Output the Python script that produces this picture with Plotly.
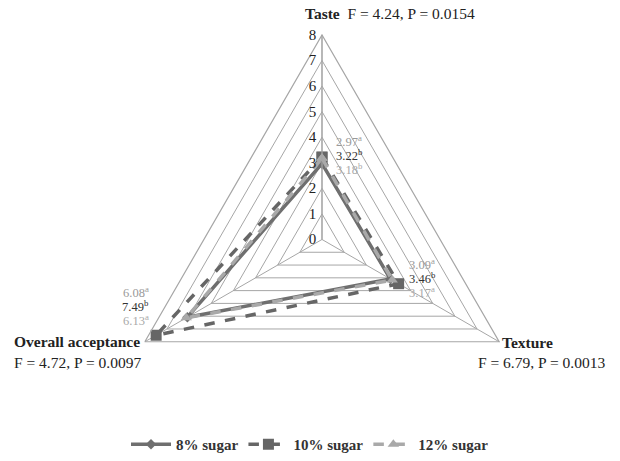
import plotly.graph_objects as go

# Sensory attributes (clockwise from top) and mean scores per sugar level
attributes = ["Taste", "Texture", "Overall acceptance"]
sugar_8 = [2.97, 3.09, 6.08]
sugar_10 = [3.22, 3.46, 7.49]
sugar_12 = [3.18, 3.17, 6.13]
letters_8 = ["a", "a", "a"]
letters_10 = ["b", "b", "b"]
letters_12 = ["b", "a", "a"]
series_names = ["8% sugar", "10% sugar", "12% sugar"]
stats = ["F = 4.24, P = 0.0154", "F = 6.79, P = 0.0013", "F = 4.72, P = 0.0097"]
radial_ticks = [0, 1, 2, 3, 4, 5, 6, 7, 8]

W, H = 620, 461
FONT = "Liberation Serif, Times New Roman, serif"
GRID = "#a6a6a6"

styles = [
    dict(color="#6f6f6f", dash="solid", symbol="diamond", size=8),
    dict(color="#666666", dash="dash", symbol="square", size=11),
    dict(color="#a9a9a9", dash="dash", symbol="triangle-up", size=10),
]

fig = go.Figure()
for name, vals, st in zip(series_names, [sugar_8, sugar_10, sugar_12], styles):
    fig.add_trace(go.Scatterpolar(
        r=vals + vals[:1],
        theta=attributes + attributes[:1],
        mode="lines+markers",
        name=name,
        line=dict(color=st["color"], width=3.5, dash=st["dash"]),
        marker=dict(symbol=st["symbol"], size=st["size"], color=st["color"]),
        cliponaxis=False,
    ))

# centre (322, 240) px, radius 205 px
cx, cy, rad = 322, 240, 205
fig.update_layout(
    width=W, height=H,
    margin=dict(l=0, r=0, t=0, b=0),
    paper_bgcolor="white",
    plot_bgcolor="white",
    font=dict(family=FONT, size=14, color="#222"),
    polar=dict(
        domain=dict(x=[(cx - rad) / W, (cx + rad) / W],
                    y=[1 - (cy + rad) / H, 1 - (cy - rad) / H]),
        gridshape="linear",
        bgcolor="white",
        radialaxis=dict(
            range=[0, 8], tickvals=radial_ticks, angle=90, tickangle=90,
            side="counterclockwise",
            showline=True, linecolor=GRID, linewidth=1.2,
            gridcolor=GRID, gridwidth=1.2, ticks="",
            tickfont=dict(family=FONT, size=15, color="#222"),
        ),
        angularaxis=dict(
            rotation=90, direction="clockwise",
            showticklabels=False, ticks="",
            showline=True, linecolor=GRID, linewidth=1.2,
            gridcolor=GRID, gridwidth=1.2,
        ),
    ),
    showlegend=True,
    legend=dict(
        orientation="h", x=0.5, xanchor="center", y=1 - 445 / H, yanchor="middle",
        font=dict(family=FONT, size=15, color="#333", weight="bold"),
        itemwidth=40,
    ),
)


def px(x, y, text, xanchor="left", color="#222", size=14):
    fig.add_annotation(x=x / W, y=1 - y / H, xref="paper", yref="paper",
                       text=text, showarrow=False, xanchor=xanchor, yanchor="middle",
                       font=dict(family=FONT, size=size, color=color))


# axis titles with ANOVA results
px(303, 14, f"<b>{attributes[0]}</b>  {stats[0]}", size=15.5)
px(527, 343, f"<b>{attributes[1]}</b>", xanchor="center", size=15.5)
px(541, 363, stats[1], xanchor="center", size=15.5)
px(12, 342, f"<b>{attributes[2]}</b>", size=15.5)
px(12, 363, stats[2], size=15.5)

# mean value labels with significance letters
label_colors = ["#9a9a9a", "#333333", "#a9a9a9"]
anchors = [(334, 141, "left"), (407, 265, "left"), (151, 293, "right")]
for i, (ax, ay, anc) in enumerate(anchors):
    rows = [(sugar_8[i], letters_8[i]), (sugar_10[i], letters_10[i]), (sugar_12[i], letters_12[i])]
    for j, (v, letter) in enumerate(rows):
        px(ax, ay + 14 * j, f"{v:.2f}<sup>{letter}</sup>", xanchor=anc,
           color=label_colors[j], size=12.5)

fig.write_html("out.html")
